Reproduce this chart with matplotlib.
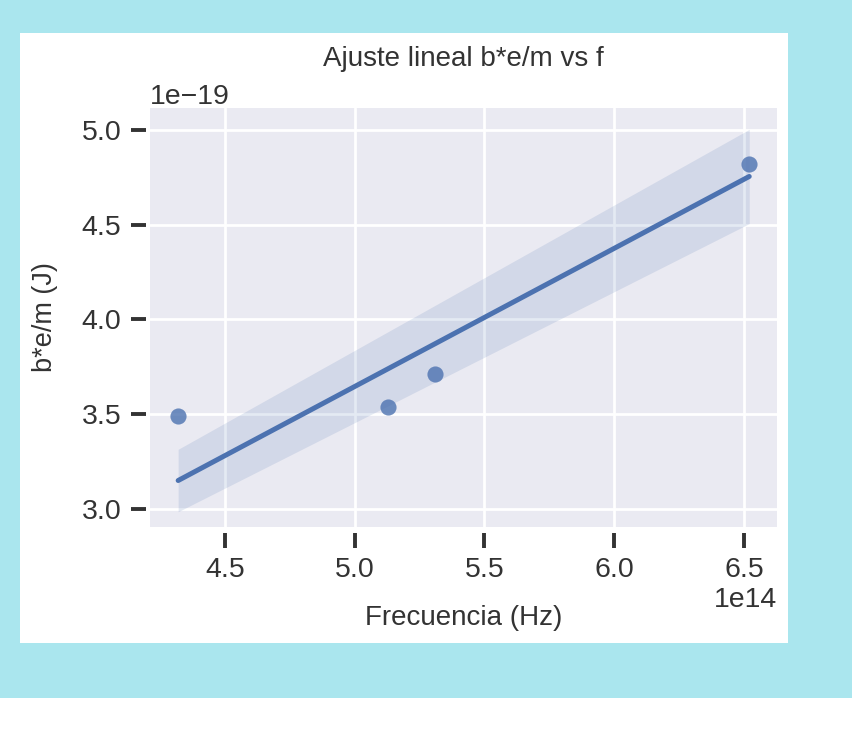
import matplotlib
matplotlib.use("Agg")
import matplotlib.pyplot as plt
import numpy as np
import seaborn as sns
from matplotlib.patches import Rectangle

# datos
frecuencia = np.array([4.32e14, 5.13e14, 5.31e14, 6.52e14])   # Hz
energia = np.array([3.49e-19, 3.54e-19, 3.71e-19, 4.82e-19])   # J

sns.set_theme(style="darkgrid")
plt.rcParams['font.family'] = ['Liberation Sans', 'DejaVu Sans']

W, H = 853, 730
fig = plt.figure(figsize=(W / 100, H / 100), dpi=100, facecolor="white")

# fondo del notebook
fig.patches.append(Rectangle((0, 32 / H), 1, 698 / H, transform=fig.transFigure,
                             facecolor="#aae6ee", edgecolor="none", zorder=-10))
fig.patches.append(Rectangle((20 / W, 87 / H), 768 / W, 610 / H, transform=fig.transFigure,
                             facecolor="white", edgecolor="none", zorder=-9))

ax = fig.add_axes([150 / W, 203 / H, 627 / W, 419 / H])
ax.set_facecolor("#eaeaf2")

# ajuste por el origen: E = h f
pendiente = np.sum(frecuencia * energia) / np.sum(frecuencia ** 2)
residuos = energia - pendiente * frecuencia
s = np.sqrt(np.sum(residuos ** 2) / (len(frecuencia) - 1))
se_pend = s / np.sqrt(np.sum(frecuencia ** 2))

xs = np.linspace(frecuencia.min(), frecuencia.max(), 100)
ys = pendiente * xs
banda = 1.645 * se_pend * xs

color = "#4c72b0"
ax.fill_between(xs, ys - banda, ys + banda, color=color, alpha=0.15, linewidth=0)
ax.plot(xs, ys, color=color, linewidth=3.6, solid_capstyle="round")
ax.scatter(frecuencia, energia, s=135, color=color, alpha=0.8, linewidths=0, zorder=3)

ax.set_xlim(4.2115e14, 6.627e14)
ax.set_ylim(2.905e-19, 5.116e-19)
ax.set_xticks([4.5e14, 5.0e14, 5.5e14, 6.0e14, 6.5e14])
ax.set_yticks([3.0e-19, 3.5e-19, 4.0e-19, 4.5e-19, 5.0e-19])

ax.grid(color="white", linewidth=2)
for side in ["top", "right", "left", "bottom"]:
    ax.spines[side].set_visible(False)
ax.spines["left"].set_position(("outward", 3))
ax.spines["bottom"].set_position(("outward", 4))

ax.tick_params(axis="both", direction="out", length=10.5, width=2.8, color="#333333",
               labelsize=20.5, labelcolor="#333333", pad=7, bottom=True, left=True)
ax.xaxis.get_offset_text().set_fontsize(20.5)
ax.yaxis.get_offset_text().set_fontsize(20.5)
ax.xaxis.get_offset_text().set_color("#333333")
ax.yaxis.get_offset_text().set_color("#333333")

ax.set_title("Ajuste lineal b*e/m vs f", fontsize=20, color="#333333", pad=30)
ax.set_xlabel("Frecuencia (Hz)", fontsize=20, color="#333333", labelpad=16)
ax.set_ylabel("b*e/m (J)", fontsize=19.5, color="#333333", labelpad=17)

fig.savefig("out.png", dpi=100, facecolor=fig.get_facecolor())
